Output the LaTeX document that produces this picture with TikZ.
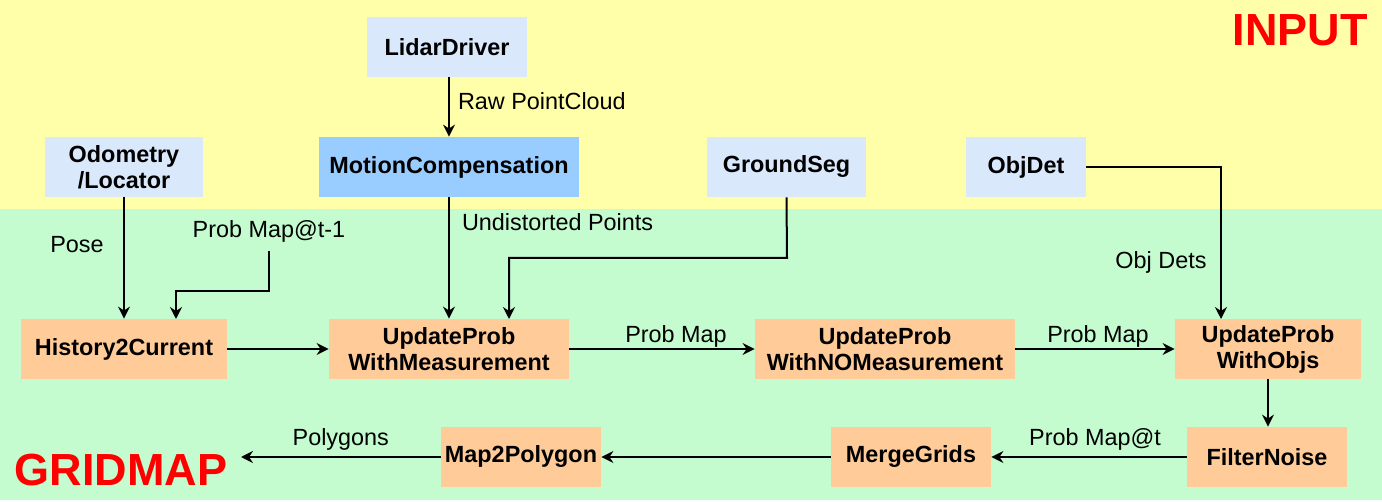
\documentclass[tikz,border=0pt]{standalone}
\usepackage{fontspec}
\setmainfont{Liberation Sans}
\usetikzlibrary{arrows.meta}

\definecolor{inputbg}{RGB}{255,255,170}
\definecolor{gridbg}{RGB}{196,252,208}
\definecolor{srcblue}{RGB}{218,232,252}
\definecolor{motionblue}{RGB}{153,204,255}
\definecolor{procorange}{RGB}{255,204,153}

\begin{document}
\begin{tikzpicture}[x=0.5pt, y=-0.5pt,
    srcbox/.style={fill=srcblue, minimum height=30pt, font=\fontsize{11.7}{13}\selectfont\bfseries, align=center, inner sep=0pt},
    procbox/.style={fill=procorange, minimum height=30pt, font=\fontsize{11.7}{13}\selectfont\bfseries, align=center, inner sep=0pt},
    lbl/.style={font=\fontsize{11.7}{13}\selectfont, inner sep=0pt},
    flow/.style={line width=1pt, -{Stealth[length=6pt, width=6pt, inset=2pt]}},
    wire/.style={line width=1pt}]

    % Draw the two layers
    \useasboundingbox (0,0) rectangle (1382,502);
    \fill[white] (0,0) rectangle (1382,502);
    \fill[inputbg] (0,0) rectangle (1382,209);
    \fill[gridbg] (0,209) rectangle (1382,500);
    \node[lbl, text=red, font=\fontsize{22.5}{24}\selectfont\bfseries] (input) at (1300,30) {INPUT};
    \node[lbl, text=red, font=\fontsize{22.5}{24}\selectfont\bfseries] (gridmap) at (121,470) {GRIDMAP};

    % Draw input nodes
    \node[srcbox, minimum width=80pt] (lidar) at (447,47) {LidarDriver};
    \node[srcbox, minimum width=79pt] (odom) at (124,167) {Odometry\\/Locator};
    \node[srcbox, fill=motionblue, minimum width=130pt] (motion) at (449,167) {MotionCompensation};
    \node[srcbox, minimum width=79.5pt] (ground) at (786.5,167) {GroundSeg};
    \node[srcbox, minimum width=60pt] (objdet) at (1026,167) {ObjDet};

    % Draw gridmap nodes
    \node[procbox, minimum width=103pt] (history) at (124,349) {History2Current};
    \node[procbox, minimum width=120pt] (withmeas) at (449,349) {UpdateProb\\WithMeasurement};
    \node[procbox, minimum width=130pt] (nomeas) at (885,349) {UpdateProb\\WithNOMeasurement};
    \node[procbox, minimum width=93pt] (withobjs) at (1268,349) {UpdateProb\\WithObjs};
    \node[procbox, minimum width=80pt] (filter) at (1267,457) {FilterNoise};
    \node[procbox, minimum width=80pt] (merge) at (911,457) {MergeGrids};
    \node[procbox, minimum width=80pt] (polygon) at (521,457) {Map2Polygon};

    % Draw connectors
    \draw[flow] (lidar.south -| motion) -- (motion.north) node[lbl, pos=0.4, anchor=west, xshift=4pt] {Raw PointCloud};
    \draw[flow] (motion.south) -- (withmeas.north) node[lbl, pos=0.2, anchor=west, xshift=6pt] {Undistorted Points};
    \draw[flow] (odom.south) -- (history.north);
    \node[lbl] (pose) at (77,245) {Pose};
    \node[lbl] (prevmap) at (269,231) {Prob Map@t-1};
    \draw[flow] (269,251) -- (269,291) -- (176,291) -- (176,319);
    \draw[flow] (ground.south) -- (787,258) -- (509,258) -- (509,319);
    \draw[flow] (objdet.east) -- (1221,167) -- (1221,319);
    \node[lbl] (objdets) at (1161,262) {Obj Dets};

    \draw[flow] (history.east) -- (withmeas.west);
    \draw[flow] (withmeas.east) -- (nomeas.west) node[lbl, midway, above=0.5pt, xshift=7pt] {Prob Map};
    \draw[flow] (nomeas.east) -- (withobjs.west) node[lbl, midway, above=0.5pt, xshift=1.5pt] {Prob Map};
    \draw[flow] (withobjs.south) -- (filter.north -| withobjs);
    \draw[flow] (filter.west) -- (merge.east) node[lbl, midway, above=3pt, xshift=3pt] {Prob Map@t};
    \draw[flow] (merge.west) -- (polygon.east);
    \coordinate (out) at (241,457);
    \draw[flow] (polygon.west) -- (out) node[lbl, midway, above=3pt] {Polygons};
\end{tikzpicture}
\end{document}
